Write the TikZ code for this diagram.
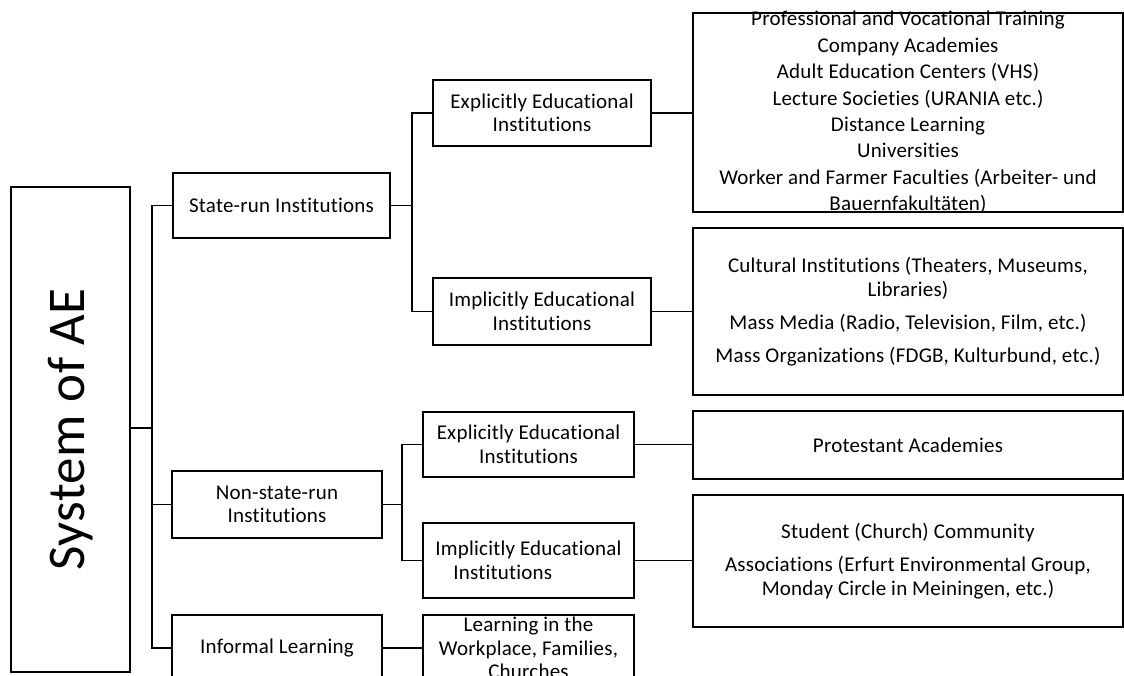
\documentclass[tikz,border=0pt]{standalone}
\usepackage{fontspec}
\setmainfont{Carlito}[Ligatures=NoCommon, LetterSpace=1]
\usepackage{tikz}

\tikzset{
    box/.style={draw, line width=1.5pt, inner sep=0pt, align=center,
        font=\fontsize{21}{23.5}\selectfont},
    txt/.style={inner sep=0pt, align=center, font=\fontsize{21}{23.5}\selectfont},
    link/.style={line width=1.5pt}
}

\begin{document}
\begin{tikzpicture}[x=1pt,y=-1pt]
                \useasboundingbox (0,0) rectangle (1124,675);
                \clip (0,0) rectangle (1124,675);

                \node [box, minimum width=119, minimum height=485] (root) at (70.5,429.5) {};
                \node [rotate=90, inner sep=0pt, font=\fontsize{53}{60}\selectfont] (roottext) at (root.center) {System of AE};

                \node [box, minimum width=217, minimum height=65] (state) at (281.5,205.5) {State-run Institutions};
                \node [box, minimum width=210, minimum height=67] (nonstate) at (277,504.5) {Non-state-run\\Institutions};
                \node [box, minimum width=210, minimum height=66] (informal) at (277,648) {Informal Learning};

                \node [box, minimum width=218, minimum height=66] (explA) at (542,113) {Explicitly Educational\\Institutions};
                \node [box, minimum width=218, minimum height=67] (implA) at (542,311.5) {Implicitly Educational\\Institutions};
                \node [box, minimum width=211, minimum height=65] (explB) at (528.5,444.5) {Explicitly Educational\\Institutions};
                \node [box, minimum width=211, minimum height=75, align=left] (implB) at (528.5,560.5) {Implicitly Educational\\\hspace*{18pt}Institutions};
                \node [box, minimum width=211, minimum height=66] (learn) at (528.5,648) {};
                \node [txt] (learntext) at (learn.center) {Learning in the\\Workplace, Families,\\Churches};

                \node [box, minimum width=430, minimum height=199] (listA) at (908,112.5) {};
                \node [txt, font=\fontsize{21}{26.4}\selectfont] (listAtext) at (listA.center) {
                    Professional and Vocational Training\\
                    Company Academies\\
                    Adult Education Centers (VHS)\\
                    Lecture Societies (URANIA etc.)\\
                    Distance Learning\\
                    Universities\\
                    Worker and Farmer Faculties (Arbeiter- und\\
                    Bauernfakultäten)
                };
                \node [box, minimum width=430, minimum height=167] (listB) at (908,311.5) {
                    Cultural Institutions (Theaters, Museums,\\
                    Libraries)\\[9.5pt]
                    Mass Media (Radio, Television, Film, etc.)\\[9.5pt]
                    Mass Organizations (FDGB, Kulturbund, etc.)
                };
                \node [box, minimum width=430, minimum height=68] (listC) at (908,445) {Protestant Academies};
                \node [box, minimum width=430, minimum height=132] (listD) at (908,561) {
                    Student (Church) Community\\[9.5pt]
                    Associations (Erfurt Environmental Group,\\
                    Monday Circle in Meiningen, etc.)
                };

                \coordinate (j0) at (152,428);
                \draw [link] (root.east |- j0) -- (j0);
                \draw [link] (state.west) -| (j0);
                \draw [link] (nonstate.west) -| (j0);
                \draw [link] (informal.west) -| (j0);

                \coordinate (j1) at (412,205.5);
                \draw [link] (state.east) -- (j1);
                \draw [link] (explA.west) -| (j1);
                \draw [link] (implA.west) -| (j1);

                \coordinate (j2) at (402,504.5);
                \draw [link] (nonstate.east) -- (j2);
                \draw [link] (explB.west) -| (j2);
                \draw [link] (implB.west) -| (j2);
                \draw [link] (informal.east) -- (learn.west);

                \draw [link] (explA.east) -- (explA.east -| listA.west);
                \draw [link] (implA.east) -- (implA.east -| listB.west);
                \draw [link] (explB.east) -- (explB.east -| listC.west);
                \draw [link] (implB.east) -- (implB.east -| listD.west);
            \end{tikzpicture}
\end{document}
